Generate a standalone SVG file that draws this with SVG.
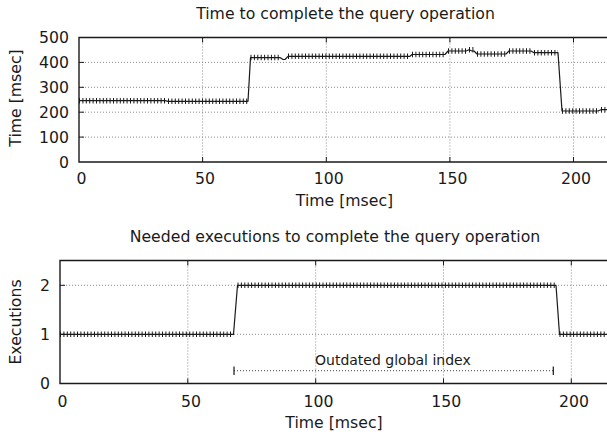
<svg xmlns="http://www.w3.org/2000/svg" width="607" height="436" viewBox="0 0 607 436">
  <style>
    text { font-family: "DejaVu Sans", "Liberation Sans", sans-serif; fill: #1a1a1a; }
    .title, .axlabel, .tick { font-size: 15.7px; }
    .tick-y { text-anchor: end; }
    .tick-x { text-anchor: middle; }
    .mid { text-anchor: middle; }
    .key { font-size: 14px; }
    .grid { stroke: #8a8a8a; stroke-width: 1; stroke-dasharray: 1 2; fill: none; }
    .border { stroke: #1a1a1a; stroke-width: 1.4; fill: none; }
    .tics { stroke: #1a1a1a; stroke-width: 1; fill: none; }
    .data { stroke: #1a1a1a; stroke-width: 1.2; fill: none; stroke-linejoin: round; }
    .pts { stroke: #1a1a1a; stroke-width: 5.5; stroke-dasharray: 1 2.4; fill: none; }
    .span { stroke: #444; stroke-width: 1; stroke-dasharray: 1 2; fill: none; }
    .cap { stroke: #1a1a1a; stroke-width: 1.2; fill: none; }
  </style>
  <rect width="607" height="436" fill="#ffffff"/>

  <!-- Upper chart: query time -->
  <g id="plot-time">
    <text class="title mid" x="345.5" y="18.5">Time to complete the query operation</text>
    <g class="grid-lines">
      <path class="grid" d="M79,62.4 H607 M79,87.3 H607 M79,112.2 H607 M79,137.1 H607"/>
      <path class="grid" d="M202.6,37.5 V162 M326.3,37.5 V162 M449.9,37.5 V162 M573.5,37.5 V162"/>
    </g>
    <path class="border" d="M607,37.5 H79 V162 H607"/>
    <path class="tics" d="M79,62.4 h5 M79,87.3 h5 M79,112.2 h5 M79,137.1 h5
      M202.6,162 v-5 M326.3,162 v-5 M449.9,162 v-5 M573.5,162 v-5
      M202.6,37.5 v5 M326.3,37.5 v5 M449.9,37.5 v5 M573.5,37.5 v5"/>
    <g class="ticklabels">
      <text class="tick tick-y" x="69" y="43">500</text>
      <text class="tick tick-y" x="69" y="67.9">400</text>
      <text class="tick tick-y" x="69" y="92.8">300</text>
      <text class="tick tick-y" x="69" y="117.7">200</text>
      <text class="tick tick-y" x="69" y="142.6">100</text>
      <text class="tick tick-y" x="69" y="167.5">0</text>
      <text class="tick tick-x" x="81.5" y="183.5">0</text>
      <text class="tick tick-x" x="205" y="183.5">50</text>
      <text class="tick tick-x" x="328.8" y="183.5">100</text>
      <text class="tick tick-x" x="452.4" y="183.5">150</text>
      <text class="tick tick-x" x="576" y="183.5">200</text>
    </g>
    <text class="axlabel mid" x="344.5" y="206">Time [msec]</text>
    <text class="axlabel mid" transform="translate(20.5,98) rotate(-90)">Time [msec]</text>
  </g>

  <!-- Lower chart: executions needed -->
  <g id="plot-exec">
    <text class="title mid" x="335" y="241.7">Needed executions to complete the query operation</text>
    <g class="grid-lines">
      <path class="grid" d="M60,285.3 H607 M60,334.3 H607"/>
      <path class="grid" d="M187.8,260.5 V383.5 M315.7,260.5 V383.5 M443.5,260.5 V383.5 M571.3,260.5 V383.5"/>
    </g>
    <path class="border" d="M607,260.5 H60 V383.5 H607"/>
    <path class="tics" d="M60,285.3 h5 M60,334.3 h5
      M187.8,383.5 v-5 M315.7,383.5 v-5 M443.5,383.5 v-5 M571.3,383.5 v-5
      M187.8,260.5 v5 M315.7,260.5 v5 M443.5,260.5 v5 M571.3,260.5 v5"/>
    <g class="ticklabels">
      <text class="tick tick-y" x="50" y="290.8">2</text>
      <text class="tick tick-y" x="50" y="339.8">1</text>
      <text class="tick tick-y" x="50" y="388.8">0</text>
      <text class="tick tick-x" x="62.5" y="406.7">0</text>
      <text class="tick tick-x" x="191" y="406.7">50</text>
      <text class="tick tick-x" x="318.5" y="406.7">100</text>
      <text class="tick tick-x" x="446.3" y="406.7">150</text>
      <text class="tick tick-x" x="574" y="406.7">200</text>
    </g>
    <text class="axlabel mid" x="334" y="428">Time [msec]</text>
    <text class="axlabel mid" transform="translate(20.5,322) rotate(-90)">Executions</text>

    <!-- span where the global index is outdated -->
    <g id="outdated-index">
      <path class="span" d="M234,370.7 H553.3"/>
      <path class="cap" d="M234,366.5 V375 M553.3,366.5 V375"/>
      <text class="key" x="315" y="365">Outdated global index</text>
    </g>
  </g>

  <!-- Measured series -->
  <g id="series">
    <path class="data" d="M79,100.7 H165 L168,101.3 H248 L250.5,57.6 H280 L283,59.5 H285 L288,56.3 H410 L412,54.5 H445 L448,51 H466 L469,49.8 L472,51 H474 L477,54 H506 L509,51 H531 L534,52.7 H558 L562,111 H598 L601,109.7 H607"/>
    <path class="pts" d="M79,100.7 H165 M168,101.3 H248 M250.5,57.6 H280 M288,56.3 H410 M412,54.5 H445 M448,51 H466 M469,49.8 H474 M477,54 H506 M509,51 H531 M534,52.7 H558 M562,111 H598 M601,109.7 H607"/>
    <path class="data" d="M60,334.3 H233.5 L237.5,285.3 H556 L559.5,334.3 H607"/>
    <path class="pts" d="M60,334.3 H233.5 M237.5,285.3 H556 M559.5,334.3 H607"/>
  </g>
</svg>
